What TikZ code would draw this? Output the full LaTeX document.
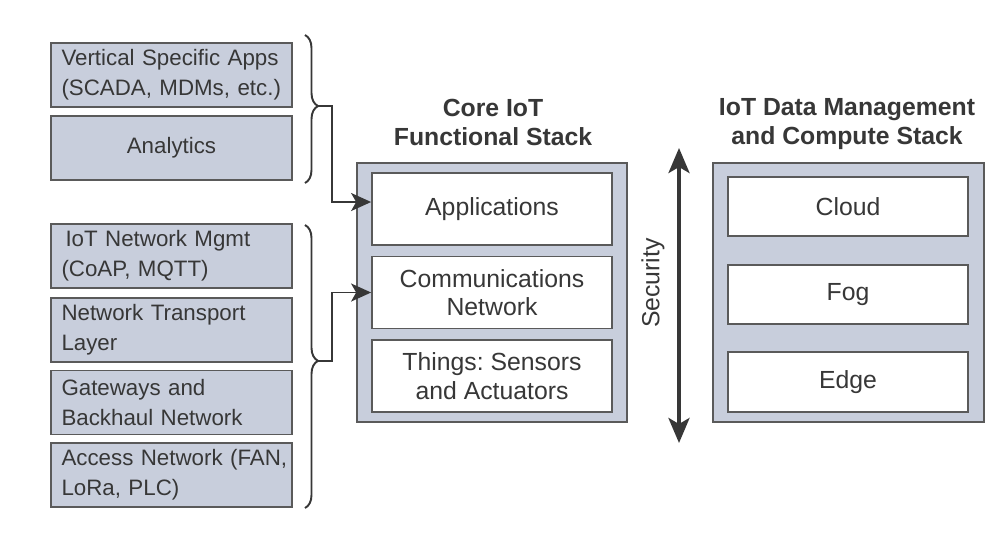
\documentclass[tikz,border=0pt]{standalone}
\usepackage{fontspec}
\setmainfont{Liberation Sans}
\usepackage{tikz}
\usetikzlibrary{arrows.meta}
\usetikzlibrary{decorations.pathreplacing}
\frenchspacing
\definecolor{stackfill}{RGB}{200,206,220}
\definecolor{boxline}{RGB}{90,90,90}
\definecolor{txt}{RGB}{55,55,55}
\tikzset{layerbox/.style={draw=boxline, fill=stackfill, line width=1.1pt, text=txt, text width=4.4cm, inner xsep=0.21cm, minimum height=1.28cm, align=left, font=\fontsize{12.7}{17.2}\selectfont}}
\tikzset{stackbox/.style={draw=boxline, fill=stackfill, line width=1.1pt, minimum width=5.4cm, minimum height=5.18cm}}
\tikzset{tierbox/.style={draw=boxline, fill=white, line width=1pt, text=txt, minimum width=4.8cm, align=center, font=\fontsize{14.1}{16.3}\selectfont}}
\tikzset{stacktitle/.style={text=txt, align=center, font=\bfseries\fontsize{14.1}{16.3}\selectfont}}
\tikzset{linkarrow/.style={draw=txt, line width=1.1pt, -{Stealth[length=0.4cm,width=0.36cm,inset=0.1cm]}}}
\tikzset{groupbrace/.style={draw=txt, line width=1.1pt, decorate, decoration={brace, amplitude=0.26cm, aspect=0.48}}}

\begin{document}
\begin{tikzpicture}
		\useasboundingbox (0,0) rectangle (20.04,-10.84);
		% left column
		\node[layerbox] (vsa) at (3.43,-1.50) {\mbox{Vertical Specific Apps}\\(SCADA, MDMs, etc.)};
		\node[layerbox, align=center] (ana) at (3.43,-2.96) {Analytics};
		\node[layerbox] (nms) at (3.43,-5.12) {\hspace*{0.08cm}IoT Network Mgmt\\(CoAP, MQTT)};
		\node[layerbox] (ntl) at (3.43,-6.60) {Network Transport\\Layer};
		\node[layerbox] (gbn) at (3.43,-8.05) {Gateways and\\Backhaul Network};
		\node[layerbox] (acc) at (3.43,-9.50) {\mbox{Access Network (FAN,}\\LoRa, PLC)};
		% stacks
		\node[stackbox] (core) at (9.84,-5.85) {};
		\node[stackbox, minimum width=5.42cm] (dms) at (16.97,-5.85) {};
		\node[stacktitle] (coretitle) at (9.86,-2.45) {Core IoT\\Functional Stack};
		\node[stacktitle] (dmstitle) at (16.94,-2.48) {IoT Data Management\\and Compute Stack};
		\node[tierbox, minimum height=1.44cm] (apps) at (9.84,-4.18) {Applications};
		\node[tierbox, minimum height=1.44cm] (comm) at (9.84,-5.85) {Communications\\Network};
		\node[tierbox, minimum height=1.44cm] (things) at (9.84,-7.52) {Things: Sensors\\and Actuators};
		\node[tierbox, minimum height=1.18cm] (cloud) at (16.96,-4.13) {Cloud};
		\node[tierbox, minimum height=1.18cm] (fog) at (16.96,-5.89) {Fog};
		\node[tierbox, minimum height=1.20cm] (edge) at (16.96,-7.64) {Edge};
		% braces and links
		\coordinate (b1top) at (6.10,-0.70);
		\coordinate (b1bot) at (6.10,-3.66);
		\coordinate (b1tip) at (6.36,-2.12);
		\coordinate (b2top) at (6.10,-4.50);
		\coordinate (b2bot) at (6.10,-10.16);
		\coordinate (b2tip) at (6.36,-7.22);
		\path [groupbrace] (b1top) -- (b1bot);
		\path [groupbrace] (b2top) -- (b2bot);
		\path [linkarrow] (b1tip) -- ++(0.28,0) |- ([yshift=0.14cm]apps.west);
		\path [linkarrow] (b2tip) -- ++(0.28,0) |- (comm.west);
		% security
		\coordinate (sectop) at (13.58,-2.96);
		\coordinate (secbot) at (13.58,-8.86);
		\path [draw=txt, line width=2.2pt, {Stealth[length=0.5cm,width=0.42cm,inset=0.12cm]}-{Stealth[length=0.5cm,width=0.42cm,inset=0.12cm]}] (secbot) -- (sectop);
		\node[rotate=90, text=txt, font=\fontsize{14.1}{16.3}\selectfont] (seclabel) at (13.06,-5.66) {Security};
	\end{tikzpicture}
\end{document}
